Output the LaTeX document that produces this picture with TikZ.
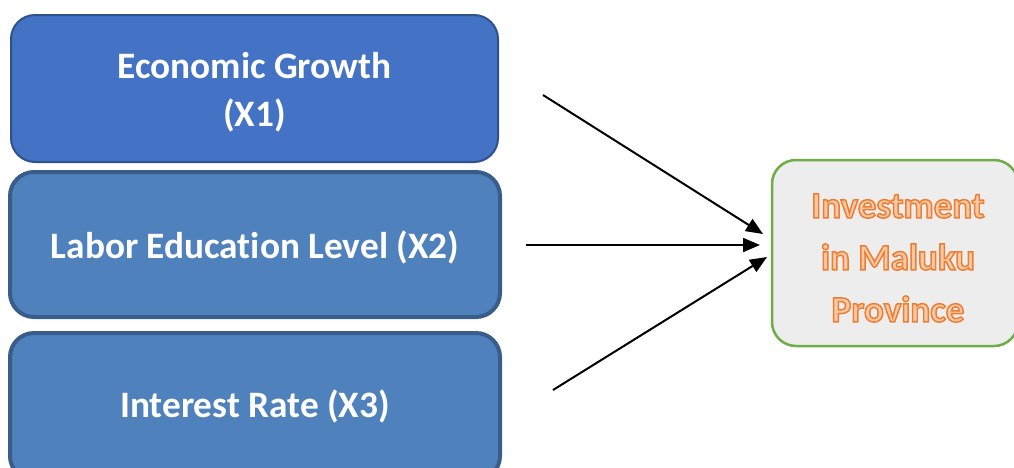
\documentclass[tikz,border=0pt]{standalone}
\usepackage{fontspec}
\setmainfont[Ligatures=NoCommon]{Carlito}
\usetikzlibrary{arrows.meta}
\definecolor{blueA}{HTML}{4472C4}
\definecolor{blueAline}{HTML}{2F528F}
\definecolor{blueB}{HTML}{4F81BD}
\definecolor{blueBline}{HTML}{385D8A}
\definecolor{greenline}{HTML}{70AD47}
\definecolor{grayfill}{HTML}{EDEDED}
\definecolor{orangeA}{HTML}{ED7D31}
\definecolor{orangeL}{HTML}{F9C9A6}
\font\wafnt="Carlito/B:embolden=4" at 37pt
\newcommand{\wa}[1]{{\color{orangeL}\special{pdf:literal direct 0.929 0.490 0.192 RG}\wafnt #1}}
\tikzset{
  boxA/.style={rounded corners=24pt, fill=blueA, draw=blueAline, line width=2pt, inner sep=0pt},
  boxB/.style={rounded corners=24pt, fill=blueB, draw=blueBline, line width=4pt, inner sep=0pt},
  boxC/.style={rounded corners=24pt, fill=grayfill, draw=greenline, line width=2.5pt, inner sep=0pt},
  whitetext/.style={text=white, align=center, inner sep=0pt,
    font=\fontsize{37.3}{48}\selectfont\bfseries},
  orangetext/.style={align=center, inner sep=0pt, font=\fontsize{37}{52}\selectfont},
  arrowline/.style={line width=2pt, -{Triangle[length=17pt,width=14pt]}}
}
\begin{document}
\begin{tikzpicture}[x=1pt,y=-1pt]
\useasboundingbox (0,0) rectangle (1014,467);
\clip (0,0) rectangle (1014,467);
\node[boxA, minimum width=487pt, minimum height=147pt] (x1) at (254.5,88.5) {};
\node[boxB, minimum width=490pt, minimum height=145pt] (x2) at (255,244.5) {};
\node[boxB, minimum width=490pt, minimum height=147pt] (x3) at (255,406.5) {};
\node[boxC, minimum width=246pt, minimum height=186pt] (y) at (895,253) {};
\node[whitetext] (x1t) at (254.5,92) {Economic Growth\\(X1)};
\node[whitetext] (x2t) at (255,247) {Labor Education Level (X2)};
\node[whitetext] (x3t) at (255,406.5) {Interest Rate (X3)};
\node[orangetext] (yt) at (898,258) {\wa{Investment}\\\wa{in Maluku}\\\wa{Province}};
\coordinate (s1) at (543,95);
\coordinate (t1) at (763,234);
\coordinate (s2) at (526,245);
\coordinate (t2) at (760,245);
\coordinate (s3) at (553,390);
\coordinate (t3) at (767,257);
\draw[arrowline] (s1) -- (t1);
\draw[arrowline] (s2) -- (t2);
\draw[arrowline] (s3) -- (t3);
\end{tikzpicture}
\end{document}
